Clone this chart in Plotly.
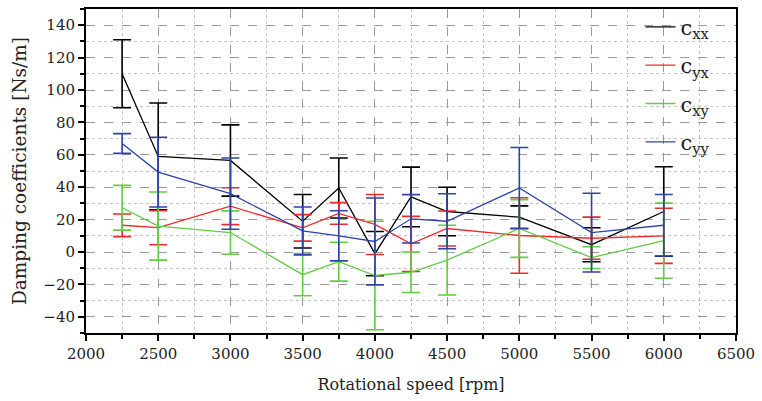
import plotly.graph_objects as go

speed = [2250, 2500, 3000, 3500, 3750, 4000, 4250, 4500, 5000, 5500, 6000]

cxx = [110, 59, 56.5, 19, 39.5, -1, 34, 25, 21.5, 4.5, 25]
cxx_err = [21, 33, 22, 16.5, 18.5, 13.7, 18.4, 15, 7, 10.5, 27.6]

cyx = [16.5, 15, 28.3, 14.9, 23.8, 17, 5, 14.5, 10.2, 8.5, 10]
cyx_err = [7, 10.5, 11.4, 8.2, 6.7, 18.5, 17, 10.8, 23.3, 13, 17]

cxy = [27.3, 16, 12, -14, -6, -14.5, -12.5, -5, 14.5, -3.5, 7]
cxy_err = [13.8, 21, 13.4, 13, 12, 33.5, 12.5, 21.5, 17.8, 6.7, 23.2]

cyy = [67, 49.3, 36, 13, 10, 6.5, 20.5, 19, 39.5, 12, 16.5]
cyy_err = [6.1, 21.5, 22, 14.8, 15.5, 26.8, 14.9, 17, 25, 24.3, 19]

names = ["c<sub>xx</sub>", "c<sub>yx</sub>", "c<sub>xy</sub>", "c<sub>yy</sub>"]
colors = ["#000000", "#ee2a2a", "#62cc42", "#2c44a8"]
values = [cxx, cyx, cxy, cyy]
errors = [cxx_err, cyx_err, cxy_err, cyy_err]

fig = go.Figure()
for i, (nm, col, v, e) in enumerate(zip(names, colors, values, errors)):
    fig.add_trace(go.Scatter(
        x=speed, y=v, mode="lines", name=nm, showlegend=False,
        line=dict(color=col, width=1.3),
        error_y=dict(type="data", array=e, visible=True, color=col,
                     thickness=1.6, width=9),
    ))
for i, (nm, col) in enumerate(zip(names, colors)):
    fig.add_trace(go.Scatter(
        x=[None], y=[None], mode="lines", name=nm, legendgroup=str(i),
        line=dict(color=col, width=1.3), showlegend=True,
    ))

ff = "DejaVu Serif"

axis_common = dict(
    showline=True, linecolor="black", linewidth=2, mirror=True,
    ticks="outside", tickcolor="black", tickwidth=2, ticklen=6,
    gridcolor="#9a9a9a", griddash="dash", gridwidth=1,
    zeroline=False,
    tickfont=dict(family=ff, size=15, color="#222"),
)

fig.update_xaxes(
    range=[2000, 6500], dtick=500, tick0=2000,
    title=dict(text="Rotational speed [rpm]", font=dict(family=ff, size=16, color="#222"), standoff=17),
    minor=dict(dtick=250, ticks="outside", ticklen=4, tickcolor="black", tickwidth=1.5,
               showgrid=True, gridcolor="#c4c4c4", griddash="dot", gridwidth=1),
    **axis_common,
)
fig.update_yaxes(
    range=[-50, 150], dtick=20, tick0=0,
    title=dict(text="Damping coefficients [Ns/m]", font=dict(family=ff, size=18.5, color="#222"), standoff=12),
    minor=dict(dtick=10, ticks="outside", ticklen=4, tickcolor="black", tickwidth=1.5,
               showgrid=True, gridcolor="#c4c4c4", griddash="dot", gridwidth=1),
    **axis_common,
)

fig.update_layout(
    width=762, height=401,
    margin=dict(l=86, r=22, t=7, b=68),
    plot_bgcolor="white", paper_bgcolor="white",
    font=dict(family=ff, color="#222"),
    legend=dict(x=0.853, y=1.007, xanchor="left", yanchor="top",
                bgcolor="rgba(0,0,0,0)", tracegroupgap=8,
                font=dict(family=ff, size=21, color="#222")),
)

fig.write_html("out.html",
               config={"displayModeBar": False},
               post_script="document.body.style.margin='0';document.body.style.overflow='hidden';")
